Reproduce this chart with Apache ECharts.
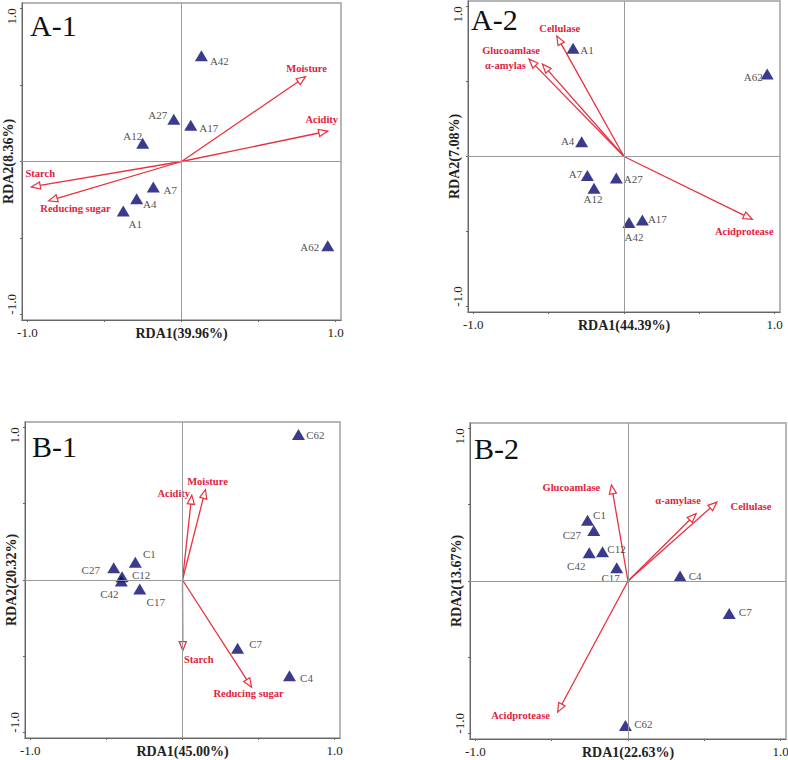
<!DOCTYPE html>
<html>
<head>
<meta charset="utf-8">
<script src="https://cdn.jsdelivr.net/npm/echarts@6/dist/echarts.min.js"></script>
<style>
html,body{margin:0;padding:0;background:#fff;}
#chart{width:788px;height:760px;}
</style>
</head>
<body>
<div id="chart"></div>
<script>
// ---------------- DATA ----------------
const panelTitles = ['A-1', 'A-2', 'B-1', 'B-2'];
const xAxisNames = ['RDA1(39.96%)', 'RDA1(44.39%)', 'RDA1(45.00%)', 'RDA1(22.63%)'];
const yAxisNames = ['RDA2(8.36%)', 'RDA2(7.08%)', 'RDA2(20.32%)', 'RDA2(13.67%)'];
const tickValues = [-1.0, -0.5, 0, 0.5, 1.0];
const tickLabelValues = [-1.0, 1.0];

// A-1 samples
const a1Samples = ['A1', 'A4', 'A7', 'A12', 'A17', 'A27', 'A42', 'A62'];
const a1SampleX = [-0.378, -0.291, -0.183, -0.252, 0.060, -0.050, 0.129, 0.949];
const a1SampleY = [-0.324, -0.244, -0.166, 0.119, 0.237, 0.276, 0.690, -0.550];
// A-1 environmental vectors
const a1Vars = ['Moisture', 'Acidity', 'Starch', 'Reducing sugar'];
const a1VarX = [0.805, 0.949, -0.975, -0.863];
const a1VarY = [0.554, 0.198, -0.166, -0.257];

// A-2 samples
const a2Samples = ['A1', 'A4', 'A7', 'A12', 'A17', 'A27', 'A42', 'A62'];
const a2SampleX = [-0.338, -0.281, -0.243, -0.199, 0.122, -0.051, 0.033, 0.950];
const a2SampleY = [0.721, 0.099, -0.127, -0.211, -0.422, -0.143, -0.440, 0.549];
// A-2 enzyme vectors
const a2Vars = ['Cellulase', 'Glucoamlase', 'α-amylas', 'Acidprotease'];
const a2VarX = [-0.446, -0.630, -0.541, 0.851];
const a2VarY = [0.802, 0.648, 0.615, -0.418];

// B-1 samples
const b1Samples = ['C1', 'C4', 'C7', 'C12', 'C17', 'C27', 'C42', 'C62'];
const b1SampleX = [-0.310, 0.703, 0.362, -0.397, -0.281, -0.452, -0.402, 0.762];
const b1SampleY = [0.116, -0.628, -0.447, 0.022, -0.059, 0.081, -0.007, 0.953];
// B-1 environmental vectors
const b1Vars = ['Moisture', 'Acidity', 'Starch', 'Reducing sugar'];
const b1VarX = [0.151, 0.061, 0.002, 0.454];
const b1VarY = [0.593, 0.556, -0.462, -0.702];

// B-2 samples
const b2Samples = ['C1', 'C4', 'C7', 'C12', 'C17', 'C27', 'C42', 'C62'];
const b2SampleX = [-0.265, 0.341, 0.663, -0.167, -0.074, -0.224, -0.254, -0.017];
const b2SampleY = [0.398, 0.033, -0.213, 0.191, 0.087, 0.330, 0.185, -0.946];
// B-2 enzyme vectors
const b2Vars = ['Glucoamlase', 'α-amylase', 'Cellulase', 'Acidprotease'];
const b2VarX = [-0.109, 0.446, 0.583, -0.461];
const b2VarY = [0.630, 0.441, 0.517, -0.859];

// ---------------- STYLE / LAYOUT ----------------
const SERIF = '"Liberation Serif", "Times New Roman", serif';
const RED = '#e8303f';
const RED_TEXT = '#e0223c';
const NAVY = '#0a0a72';
const AX_MIN = -1.035, AX_MAX = 1.035;

const grids = [
  { left: 22, top: 3, width: 319, height: 317 },
  { left: 468, top: 1, width: 312, height: 311 },
  { left: 25, top: 422, width: 315, height: 316 },
  { left: 470, top: 423, width: 316, height: 316 }
];
const titlePos = [[30, 25], [471, 19], [32, 446], [474, 448]];

// label offsets (px, from marker centre to label centre)
const sampleLabelOffsets = [
  { A1: [12, 13], A4: [13, 5], A7: [17, 3], A12: [-10, -7], A17: [18, 3], A27: [-16, -4], A42: [18, 5], A62: [-18, 1] },
  { A1: [14, 2], A4: [-14, -1], A7: [-12, -2], A12: [-1, 11], A17: [15, -1], A27: [17, 1], A42: [5, 14], A62: [-14, 3] },
  { C1: [14, -8], C4: [17, 2], C7: [18, -4], C12: [19, -2], C17: [16, 13], C27: [-23, 2], C42: [-12, 13], C62: [17, 0] },
  { C1: [12, -5], C4: [15, 0], C7: [16, -2], C12: [14, -3], C17: [-6, 10], C27: [-22, 4], C42: [-13, 13], C62: [18, -1] }
];
const varLabelOffsets = [
  { 'Moisture': [1, -8], 'Acidity': [-6, -12], 'Starch': [9, -13], 'Reducing sugar': [27, 8] },
  { 'Cellulase': [3, -8], 'Glucoamlase': [-18, -9], 'α-amylas': [-37, 1], 'Acidprotease': [-8, 12] },
  { 'Moisture': [2, -8], 'Acidity': [-18, -2], 'Starch': [16, 9], 'Reducing sugar': [-3, 6] },
  { 'Glucoamlase': [-40, 3], 'α-amylase': [-18, -13], 'Cellulase': [34, 4], 'Acidprotease': [-37, 3] }
];

const panels = [
  { s: a1Samples, sx: a1SampleX, sy: a1SampleY, v: a1Vars, vx: a1VarX, vy: a1VarY },
  { s: a2Samples, sx: a2SampleX, sy: a2SampleY, v: a2Vars, vx: a2VarX, vy: a2VarY },
  { s: b1Samples, sx: b1SampleX, sy: b1SampleY, v: b1Vars, vx: b1VarX, vy: b1VarY },
  { s: b2Samples, sx: b2SampleX, sy: b2SampleY, v: b2Vars, vx: b2VarX, vy: b2VarY }
];

// ---------------- OPTION ----------------
const chart = echarts.init(document.getElementById('chart'), null, { renderer: 'svg' });

const option = {
  backgroundColor: '#fff',
  animation: false,
  grid: grids.map(g => Object.assign({
    show: true, borderColor: '#a0a0a0', borderWidth: 1.5, backgroundColor: 'transparent',
    containLabel: false, outerBoundsMode: 'none'
  }, g)),
  graphic: panelTitles.map((t, i) => ({
    type: 'text', x: titlePos[i][0], y: titlePos[i][1], silent: true,
    style: { text: t, font: '30px ' + SERIF, fill: '#111', verticalAlign: 'middle', align: 'left' }
  })),
  xAxis: panels.map((p, i) => ({
    gridIndex: i, type: 'value', min: AX_MIN, max: AX_MAX,
    name: xAxisNames[i], nameLocation: 'middle', nameGap: 6, nameMoveOverlap: false,
    nameTextStyle: { fontFamily: SERIF, fontWeight: 'bold', fontSize: 14, color: '#222', verticalAlign: 'top' },
    axisLine: { show: true, onZero: false, lineStyle: { color: '#666', width: 1 } },
    axisTick: { show: true, customValues: tickValues, length: 2, lineStyle: { color: '#666' } },
    axisLabel: { show: true, customValues: tickLabelValues, formatter: v => Number(v).toFixed(1),
      fontFamily: SERIF, fontSize: 13, color: '#222', margin: 6 },
    splitLine: { show: false }
  })),
  yAxis: panels.map((p, i) => ({
    gridIndex: i, type: 'value', min: AX_MIN, max: AX_MAX,
    name: yAxisNames[i], nameLocation: 'middle', nameGap: 7, nameRotate: 90, nameMoveOverlap: false,
    nameTextStyle: { fontFamily: SERIF, fontWeight: 'bold', fontSize: 14, color: '#222' },
    axisLine: { show: true, onZero: false, lineStyle: { color: '#666', width: 1 } },
    axisTick: { show: true, customValues: tickValues, length: 2, lineStyle: { color: '#666' } },
    axisLabel: { show: true, customValues: tickLabelValues, formatter: v => Number(v).toFixed(1), rotate: 90,
      alignMinLabel: 'left', alignMaxLabel: 'right',
      fontFamily: SERIF, fontSize: 13, color: '#222', margin: 4 },
    splitLine: { show: false }
  })),
  series: []
};

panels.forEach((p, i) => {
  // sample points
  option.series.push({
    type: 'scatter', xAxisIndex: i, yAxisIndex: i,
    symbol: 'triangle', symbolSize: [13, 11],
    itemStyle: { color: NAVY },
    label: { show: true, position: 'inside', formatter: '{b}', fontFamily: SERIF, fontSize: 11, color: '#222' },
    data: p.s.map((n, k) => ({ name: n, value: [p.sx[k], p.sy[k]], label: { offset: sampleLabelOffsets[i][n] || [0, 0] } })),
    markLine: {
      silent: true, symbol: 'none', animation: false,
      lineStyle: { color: '#9a9a9a', width: 1, type: 'solid' },
      label: { show: false },
      data: [{ xAxis: 0 }, { yAxis: 0 }]
    },
    z: 3
  });
  // vectors
  option.series.push({
    type: 'custom', xAxisIndex: i, yAxisIndex: i,
    data: p.v.map((n, k) => ({ name: n, value: [p.vx[k], p.vy[k]] })),
    renderItem: function (params, api) {
      const o = api.coord([0, 0]);
      const t = api.coord([api.value(0), api.value(1)]);
      const dx = t[0] - o[0], dy = t[1] - o[1];
      const len = Math.hypot(dx, dy) || 1;
      const ux = dx / len, uy = dy / len;
      const L = 9, W = 3.6;
      const b = [t[0] - ux * L, t[1] - uy * L];
      const p1 = [b[0] - uy * W, b[1] + ux * W];
      const p2 = [b[0] + uy * W, b[1] - ux * W];
      const name = p.v[params.dataIndex];
      const off = varLabelOffsets[i][name] || [0, 0];
      return {
        type: 'group',
        children: [
          { type: 'line', shape: { x1: o[0], y1: o[1], x2: b[0], y2: b[1] }, style: { stroke: RED, lineWidth: 1.3 } },
          { type: 'polygon', shape: { points: [t, p1, p2] }, style: { fill: '#fff', stroke: RED, lineWidth: 1.2 } },
          { type: 'text', x: t[0] + off[0], y: t[1] + off[1],
            style: { text: name, font: 'bold 10.5px ' + SERIF, fill: RED_TEXT, align: 'center', verticalAlign: 'middle' } }
        ]
      };
    },
    z: 2
  });
});

chart.setOption(option);
</script>
</body>
</html>
